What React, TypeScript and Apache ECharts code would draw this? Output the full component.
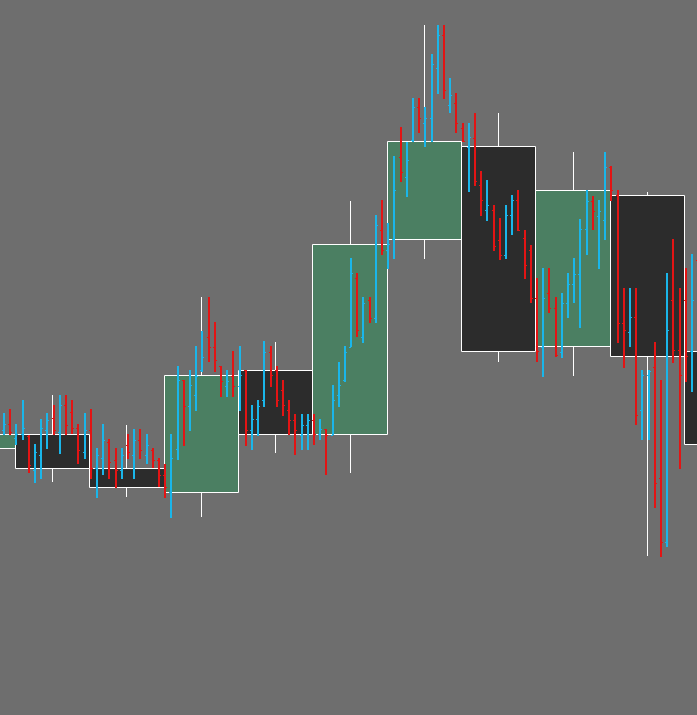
import { useEffect, useRef } from "react";
import * as echarts from "echarts";

// ---- Higher timeframe candles (each spans 12 lower-timeframe bars) ----
const bigIndex = [0, 1, 2, 3, 4, 5, 6, 7, 8, 9, 10];
const bigOpen = [267, 281, 247, 223, 345, 281, 476, 569, 369, 520, 364];
const bigClose = [281, 247, 228, 340, 281, 471, 574, 364, 525, 359, 271];
const bigHigh = [306, 320, 290, 418, 373, 514, 690, 602, 563, 523, 491];
const bigLow = [270, 233, 218, 198, 262, 242, 456, 353, 339, 159, 265];

// ---- Lower timeframe OHLC bars ----
const subIndex = [
  9, 10, 11, 12, 13, 14, 15, 16, 17, 18, 19, 20, 21, 22, 23, 24, 25, 26, 27, 28,
  29, 30, 31, 32, 33, 34, 35, 36, 37, 38, 39, 40, 41, 42, 43, 44, 45, 46, 47, 48,
  49, 50, 51, 52, 53, 54, 55, 56, 57, 58, 59, 60, 61, 62, 63, 64, 65, 66, 67, 68,
  69, 70, 71, 72, 73, 74, 75, 76, 77, 78, 79, 80, 81, 82, 83, 84, 85, 86, 87, 88,
  89, 90, 91, 92, 93, 94, 95, 96, 97, 98, 99, 100, 101, 102, 103, 104, 105, 106, 107, 108,
  109, 110, 111, 112, 113, 114, 115, 116, 117, 118, 119, 120, 121,
];
const subOpen = [
  285, 291, 277, 281, 279, 245, 260, 285, 297, 283, 310, 303, 287, 263, 285, 247, 257, 273, 255, 245,
  270, 260, 275, 260, 265, 255, 240, 223, 266, 335, 309, 320, 345, 378, 368, 349, 329, 339, 329, 345,
  285, 296, 315, 363, 345, 325, 305, 295, 280, 290, 295, 281, 286, 280, 320, 335, 368, 437, 378, 415,
  397, 485, 465, 476, 558, 538, 575, 608, 592, 597, 647, 680, 610, 612, 587, 568, 577, 530, 505, 505,
  475, 460, 500, 515, 477, 465, 417, 368, 422, 407, 363, 412, 431, 441, 486, 514, 499, 495, 548, 520,
  392, 383, 398, 305, 340, 348, 237, 173, 415, 365, 415, 364, 455,
];
const subHigh = [
  302, 306, 291, 315, 280, 271, 296, 302, 310, 320, 320, 315, 291, 302, 306, 267, 291, 276, 267, 267,
  281, 286, 286, 281, 267, 257, 251, 281, 349, 335, 345, 369, 384, 418, 393, 349, 345, 364, 369, 345,
  310, 315, 374, 369, 349, 335, 315, 301, 301, 301, 301, 296, 286, 330, 353, 369, 457, 442, 418, 418,
  500, 515, 492, 559, 588, 573, 617, 617, 608, 661, 690, 690, 637, 622, 592, 592, 602, 544, 535, 510,
  497, 510, 520, 525, 485, 470, 437, 447, 447, 418, 422, 442, 457, 496, 525, 519, 515, 563, 549, 525,
  427, 427, 427, 345, 345, 373, 335, 442, 476, 427, 447, 461, 491,
];
const subLow = [
  280, 280, 270, 275, 242, 232, 236, 266, 280, 261, 280, 281, 251, 256, 236, 217, 240, 236, 227, 236,
  256, 236, 256, 251, 247, 228, 217, 197, 255, 269, 284, 304, 343, 353, 343, 318, 318, 318, 304, 269,
  265, 279, 308, 328, 308, 299, 280, 260, 265, 265, 270, 275, 240, 280, 308, 333, 368, 378, 372, 392,
  392, 460, 446, 456, 533, 518, 573, 582, 568, 573, 621, 616, 602, 582, 573, 523, 529, 499, 494, 464,
  455, 456, 480, 484, 436, 412, 353, 338, 402, 358, 357, 397, 412, 387, 460, 485, 446, 475, 514, 372,
  347, 368, 290, 275, 275, 207, 158, 168, 352, 246, 333, 323, 348,
];
const subClose = [
  291, 283, 281, 287, 250, 263, 287, 295, 285, 310, 290, 287, 265, 285, 247, 260, 275, 253, 245, 260,
  263, 275, 265, 270, 255, 240, 228, 257, 335, 309, 330, 339, 358, 368, 355, 334, 334, 329, 340, 285,
  296, 309, 363, 340, 315, 310, 295, 285, 290, 295, 281, 286, 280, 315, 330, 363, 442, 385, 412, 397,
  490, 465, 471, 525, 543, 555, 608, 597, 597, 651, 680, 625, 620, 592, 574, 578, 534, 515, 510, 469,
  460, 500, 515, 485, 450, 417, 364, 417, 407, 360, 412, 431, 441, 486, 514, 504, 504, 548, 525, 392,
  385, 398, 300, 340, 344, 232, 173, 385, 365, 340, 359, 415, 395,
];

const BARS_PER_CANDLE = 12;
const UP_COLOR = "#1ab6ea";
const DOWN_COLOR = "#e31414";

export default function App() {
  const ref = useRef<HTMLDivElement>(null);

  useEffect(() => {
    if (!ref.current) return;
    const chart = echarts.init(ref.current, undefined, { renderer: "svg" });

    const bigData = bigIndex.map((k, i) => [k, bigOpen[i], bigClose[i], bigLow[i], bigHigh[i]]);
    const subData = subIndex.map((j, i) => [j, subOpen[i], subHigh[i], subLow[i], subClose[i]]);

    const crisp = (v: number) => Math.round(v) + 0.5;

    const option: any = {
      animation: false,
      backgroundColor: "#6e6e6e",
      grid: { left: 0, right: 0, top: 0, bottom: 0 },
      xAxis: { type: "value", min: 8.35, max: 120.81, show: false },
      yAxis: { type: "value", min: 0, max: 715, show: false },
      series: [
        {
          type: "custom",
          name: "HTF",
          silent: true,
          clip: true,
          z: 1,
          dimensions: ["k", "open", "close", "low", "high"],
          encode: { x: 0, y: [1, 2, 3, 4] },
          data: bigData,
          renderItem: (params: any, api: any) => {
            const k = api.value(0);
            const o = api.value(1);
            const c = api.value(2);
            const l = api.value(3);
            const h = api.value(4);
            const start = k * BARS_PER_CANDLE - 1.25;
            const end = k * BARS_PER_CANDLE + 10.75;
            const mid = k * BARS_PER_CANDLE + 4.75;
            const pO = api.coord([start, o]);
            const pC = api.coord([end, c]);
            const pH = api.coord([mid, h]);
            const pL = api.coord([mid, l]);
            const x0 = crisp(pO[0]);
            const x1 = crisp(pC[0]);
            const yTop = crisp(Math.min(pO[1], pC[1]));
            const yBot = crisp(Math.max(pO[1], pC[1]));
            const xm = crisp(pH[0]);
            const up = c >= o;
            return {
              type: "group",
              children: [
                {
                  type: "line",
                  shape: { x1: xm, y1: Math.round(pH[1]), x2: xm, y2: Math.round(pL[1]) },
                  style: { stroke: "#ffffff", lineWidth: 1 },
                },
                {
                  type: "rect",
                  shape: { x: x0, y: yTop, width: x1 - x0, height: Math.max(1, yBot - yTop) },
                  style: {
                    fill: up ? "#4b7f62" : "#2c2c2c",
                    stroke: "#ffffff",
                    lineWidth: 1,
                  },
                },
              ],
            };
          },
        },
        {
          type: "custom",
          name: "LTF",
          silent: true,
          clip: true,
          z: 2,
          dimensions: ["j", "open", "high", "low", "close"],
          encode: { x: 0, y: [1, 2, 3, 4] },
          data: subData,
          renderItem: (params: any, api: any) => {
            const j = api.value(0);
            const o = api.value(1);
            const h = api.value(2);
            const l = api.value(3);
            const c = api.value(4);
            const pH = api.coord([j, h]);
            const pL = api.coord([j, l]);
            const pO = api.coord([j, o]);
            const pC = api.coord([j, c]);
            const x = Math.round(pH[0]);
            const color = c >= o ? UP_COLOR : DOWN_COLOR;
            const yo = Math.round(pO[1]) + 0.5;
            const yc = Math.round(pC[1]) + 0.5;
            return {
              type: "group",
              children: [
                {
                  type: "line",
                  shape: { x1: x, y1: Math.round(pH[1]), x2: x, y2: Math.round(pL[1]) },
                  style: { stroke: color, lineWidth: 2 },
                },
                {
                  type: "line",
                  shape: { x1: x - 2, y1: yo, x2: x, y2: yo },
                  style: { stroke: color, lineWidth: 1 },
                },
                {
                  type: "line",
                  shape: { x1: x, y1: yc, x2: x + 2, y2: yc },
                  style: { stroke: color, lineWidth: 1 },
                },
              ],
            };
          },
        },
      ],
    };

    chart.setOption(option);
    return () => {
      chart.dispose();
    };
  }, []);

  return (
    <div
      ref={ref}
      style={{ position: "fixed", left: 0, top: 0, width: 697, height: 715 }}
    />
  );
}
